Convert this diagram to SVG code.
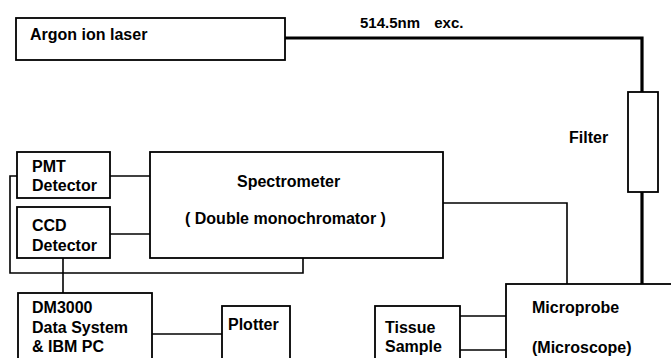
<svg xmlns="http://www.w3.org/2000/svg" width="671" height="358" viewBox="0 0 671 358">
<style>
.box{fill:#fff;stroke:#000;stroke-width:1.8}
.ln{fill:none;stroke:#000;stroke-width:1.6}
.beam{fill:none;stroke:#000;stroke-width:3.2}
text{font-family:"Liberation Sans",Arial,sans-serif;font-weight:bold;font-size:16px;fill:#000}
</style>
<rect width="671" height="358" fill="#fff"/>
<g id="connectors">
<polyline class="beam" points="285,38 642,38 642,92"/>
<line class="beam" x1="642" y1="192" x2="642" y2="284"/>
<line class="ln" x1="110" y1="176" x2="150" y2="176"/>
<line class="ln" x1="110" y1="234" x2="150" y2="234"/>
<polyline class="ln" points="17,176 10,176 10,273 303,273 303,258"/>
<line class="ln" x1="63" y1="258" x2="63" y2="293"/>
<polyline class="ln" points="443,203 567,203 567,284"/>
<line class="ln" x1="152" y1="334" x2="222" y2="334"/>
<line class="ln" x1="460" y1="316" x2="506" y2="316"/>
<line class="ln" x1="460" y1="350" x2="506" y2="350"/>
</g>
<g id="laser">
<rect class="box" x="16" y="18" width="269" height="42"/>
<text x="30" y="40">Argon ion laser</text>
</g>
<text id="beam-label" x="360" y="28" style="word-spacing:10px;font-size:15px">514.5nm exc.</text>
<g id="filter">
<rect class="box" x="628" y="92" width="30" height="100"/>
<text x="569" y="143">Filter</text>
</g>
<g id="spectrometer">
<rect class="box" x="150" y="152" width="293" height="106"/>
<text x="237" y="187">Spectrometer</text>
<text x="185" y="224">( Double monochromator )</text>
</g>
<g id="pmt">
<rect class="box" x="17" y="152" width="93" height="46"/>
<text x="32" y="172">PMT</text>
<text x="32" y="191">Detector</text>
</g>
<g id="ccd">
<rect class="box" x="17" y="207" width="93" height="51"/>
<text x="32" y="231">CCD</text>
<text x="32" y="251">Detector</text>
</g>
<g id="dm3000">
<rect class="box" x="18" y="293" width="134" height="80"/>
<text x="32" y="313">DM3000</text>
<text x="32" y="333">Data System</text>
<text x="32" y="352">&amp; IBM PC</text>
</g>
<g id="plotter">
<rect class="box" x="222" y="306" width="68" height="70"/>
<text x="228" y="330">Plotter</text>
</g>
<g id="tissue">
<rect class="box" x="375" y="306" width="85" height="70"/>
<text x="385" y="333">Tissue</text>
<text x="385" y="352">Sample</text>
</g>
<g id="microprobe">
<rect class="box" x="506" y="284" width="180" height="90"/>
<text x="532" y="313">Microprobe</text>
<text x="532" y="353">(Microscope)</text>
</g>
</svg>
